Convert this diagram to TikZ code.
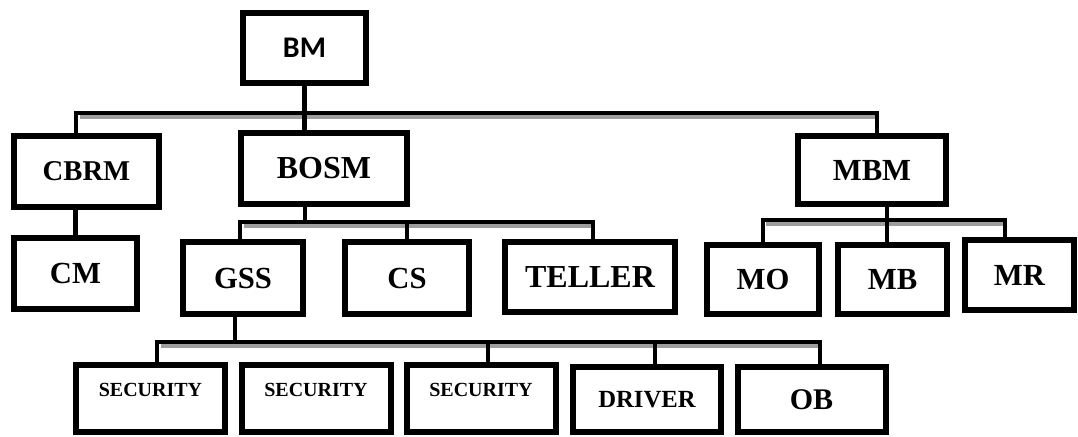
\documentclass[tikz,border=0pt]{standalone}
\usepackage{fontspec}
\setmainfont{Liberation Serif}
\newfontfamily\bmfont{Carlito}

\tikzset{
  post/.style={draw=black, line width=4.5pt, inner sep=0pt, fill=white,
    font=\bfseries\fontsize{23}{26}\selectfont},
  postsize/.style 2 args={minimum width=#1, minimum height=#2},
  small/.style={font=\bfseries\fontsize{15}{18}\selectfont, text depth=13pt},
  link/.style={draw=black, line width=3.2pt},
  glow/.style={draw=black!38, line width=3pt},
}

\begin{document}
\begin{tikzpicture}[x=0.75pt, y=-0.75pt]
\useasboundingbox (0,0) rectangle (1078,436);

% bus corners
\coordinate (j1l) at (76,113);
\coordinate (j1r) at (877,113);
\coordinate (j2l) at (240,222);
\coordinate (j2m) at (305,222);
\coordinate (j2r) at (593,222);
\coordinate (j3l) at (762,220);
\coordinate (j3m) at (887,220);
\coordinate (j3r) at (1005,220);
\coordinate (j4l) at (157,342);
\coordinate (j4m) at (235,342);
\coordinate (j4a) at (488,342);
\coordinate (j4b) at (655,342);
\coordinate (j4r) at (820,342);

% grey shadows under the buses
\path[glow] ([shift={(4,4)}]j1l) -- ([shift={(0,4)}]j1r);
\path[glow] ([shift={(4,4)}]j2l) -- ([shift={(0,4)}]j2r);
\path[glow] ([shift={(4,4)}]j3l) -- ([shift={(0,4)}]j3r);
\path[glow] ([shift={(4,4)}]j4l) -- ([shift={(0,4)}]j4r);

% top
\node[post, postsize={92.25pt}{52.5pt}, font=\bmfont\bfseries\fontsize{22.5}{26}\selectfont]
  (bm) at (304.5,48) {BM};

% second row
\node[post, postsize={108.75pt}{53.25pt}, font=\bfseries\fontsize{21.5}{25}\selectfont]
  (cbrm) at (86.5,171.5) {CBRM};
\node[post, postsize={124.5pt}{53.25pt}, font=\bfseries\fontsize{24}{27}\selectfont]
  (bosm) at (324,168.5) {BOSM};
\node[post, postsize={111pt}{51pt}] (mbm) at (872,170) {MBM};

% third row
\node[post, postsize={92.25pt}{53.25pt}] (cm) at (75.5,273.5) {CM};
\node[post, postsize={90pt}{54pt}] (gss) at (243,278) {GSS};
\node[post, postsize={93pt}{54pt}] (cs) at (407,278) {CS};
\node[post, postsize={127.5pt}{52.5pt}, font=\bfseries\fontsize{24}{27}\selectfont]
  (teller) at (590,277) {TELLER};
\node[post, postsize={84pt}{51.75pt}] (mo) at (763,279.5) {MO};
\node[post, postsize={81.75pt}{51.75pt}] (mb) at (892.5,279.5) {MB};
\node[post, postsize={81.75pt}{52.5pt}] (mr) at (1019.5,275) {MR};

% bottom row
\node[post, small, postsize={111.75pt}{50.25pt}] (sec1) at (150.5,398.5) {SECURITY};
\node[post, small, postsize={111.75pt}{50.25pt}] (sec2) at (316,398.5) {SECURITY};
\node[post, small, postsize={111.75pt}{50.25pt}] (sec3) at (481,398.5) {SECURITY};
\node[post, postsize={111pt}{48.75pt}, font=\bfseries\fontsize{18.5}{22}\selectfont]
  (driver) at (647,399.5) {DRIVER};
\node[post, postsize={111pt}{48.75pt}, font=\bfseries\fontsize{22.5}{26}\selectfont]
  (ob) at (811.5,399.5) {OB};

% connectors
\path[link] (cbrm.north -| j1l) -- (j1l) -- (j1r) -- (mbm.north -| j1r);
\path[link] (bm.south) -- (bosm.north -| bm.south);
\path[link] (cbrm.south -| cm.north) -- (cm.north);

\path[link] (gss.north -| j2l) -- (j2l) -- (j2r) -- (teller.north -| j2r);
\path[link] (bosm.south -| j2m) -- (j2m);
\path[link] (j2m -| cs.north) -- (cs.north);

\path[link] (mo.north) |- (j3r) -- (mr.north -| j3r);
\path[link] (mbm.south -| j3m) -- (mb.north -| j3m);

\path[link] (sec1.north -| j4l) -- (j4l) -- (j4r) -- (ob.north -| j4r);
\path[link] (gss.south -| j4m) -- (j4m);
\path[link] (j4a) -- (sec3.north -| j4a);
\path[link] (j4b) -- (driver.north -| j4b);

\end{tikzpicture}
\end{document}
